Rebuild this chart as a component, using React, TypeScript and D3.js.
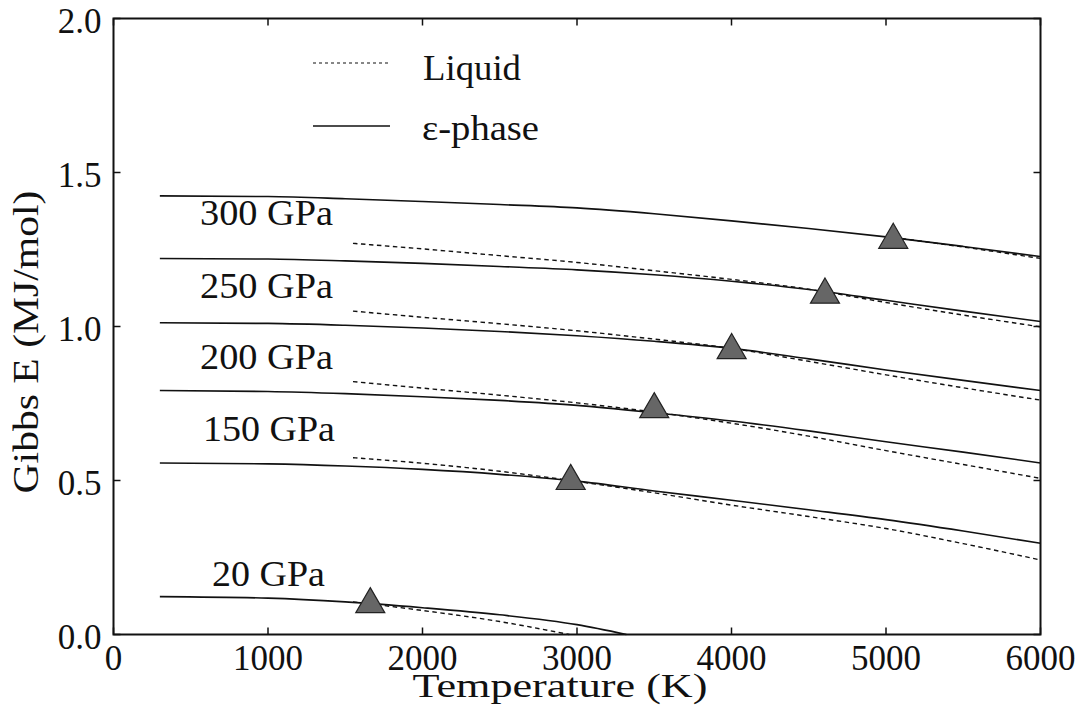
import React from "react";
import * as d3 from "d3";

// Temperature grids (K)
const SOLID_T = [300, 1000, 1500, 2000, 2500, 3000, 3500, 4000, 4500, 5000, 5500, 6000];
const LIQUID_T = [1550, 2000, 2500, 3000, 3500, 4000, 4500, 5000, 5500, 6000];

// ε-phase Gibbs energy (MJ/mol), top curve to bottom
const solidTop = [1.424, 1.422, 1.415, 1.406, 1.396, 1.385, 1.366, 1.343, 1.318, 1.291, 1.26, 1.227];
const solid250 = [1.221, 1.219, 1.213, 1.205, 1.195, 1.184, 1.168, 1.147, 1.12, 1.085, 1.05, 1.016];
const solid200 = [1.012, 1.01, 1.004, 0.995, 0.984, 0.97, 0.952, 0.929, 0.895, 0.859, 0.825, 0.792];
const solid150 = [0.792, 0.789, 0.782, 0.772, 0.76, 0.744, 0.72, 0.693, 0.661, 0.626, 0.592, 0.557];
const solidLow = [0.557, 0.554, 0.547, 0.536, 0.52, 0.498, 0.466, 0.436, 0.405, 0.373, 0.336, 0.296];
const SOLID20_T = [300, 1000, 1500, 2000, 2500, 3000, 3320];
const solid20 = [0.123, 0.118, 0.106, 0.087, 0.064, 0.032, 0.0];

// Liquid Gibbs energy (MJ/mol)
const LIQUID_TOP_T = [5050, 5500, 6000];
const liquidTop = [1.289, 1.258, 1.221];
const liquid250 = [1.27, 1.252, 1.23, 1.208, 1.181, 1.153, 1.121, 1.078, 1.037, 0.999];
const liquid200 = [1.05, 1.03, 1.009, 0.986, 0.959, 0.929, 0.887, 0.843, 0.801, 0.761];
const liquid150 = [0.821, 0.8, 0.777, 0.752, 0.722, 0.686, 0.644, 0.597, 0.552, 0.507];
const liquidLow = [0.574, 0.556, 0.53, 0.497, 0.46, 0.42, 0.383, 0.344, 0.295, 0.242];
const LIQUID20_T = [1550, 2000, 2500, 2950];
const liquid20 = [0.106, 0.078, 0.042, 0.0];

// Melting points (triangles)
const MELT_T = [1662, 2959, 3500, 4001, 4605, 5047];
const MELT_E = [0.098, 0.498, 0.731, 0.923, 1.103, 1.281];

// Pressure labels and their anchors (T, E)
const PRESSURE_LABELS = ["300 GPa", "250 GPa", "200 GPa", "150 GPa", "20 GPa"];
const LABEL_T = [560, 560, 560, 579, 637];
const LABEL_E = [1.33, 1.093, 0.862, 0.628, 0.158];
const LABEL_W = [133, 133, 133, 132, 113];

const X_TICKS = [0, 1000, 2000, 3000, 4000, 5000, 6000];
const Y_TICKS = [0, 0.5, 1.0, 1.5, 2.0];

const W = 1085;
const H = 719;
const FONT = '"Liberation Serif", "DejaVu Serif", Times, serif';

export default function App() {
  const x = d3.scaleLinear().domain([0, 6000]).range([113.5, 1040.5]);
  const y = d3.scaleLinear().domain([0, 2]).range([634.5, 18.5]);
  const line = d3
    .line<[number, number]>()
    .x((d) => x(d[0]))
    .y((d) => y(d[1]))
    .curve(d3.curveMonotoneX);
  const zip = (ts: number[], vs: number[]) => ts.map((t, i) => [t, vs[i]] as [number, number]);

  const solids = [
    zip(SOLID_T, solidTop),
    zip(SOLID_T, solid250),
    zip(SOLID_T, solid200),
    zip(SOLID_T, solid150),
    zip(SOLID_T, solidLow),
    zip(SOLID20_T, solid20),
  ];
  const liquids = [
    zip(LIQUID_TOP_T, liquidTop),
    zip(LIQUID_T, liquid250),
    zip(LIQUID_T, liquid200),
    zip(LIQUID_T, liquid150),
    zip(LIQUID_T, liquidLow),
    zip(LIQUID20_T, liquid20),
  ];
  const tri = d3.symbol().type(d3.symbolTriangle).size(364)();

  const [x0, x1] = x.range();
  const [y0, y1] = y.range();
  const tick = 7;
  const txt = { fontFamily: FONT, fill: "#111" } as React.CSSProperties;

  return (
    <svg
      width={W}
      height={H}
      style={{ position: "absolute", left: 0, top: 0, background: "#fff", fontFamily: FONT }}
    >
      <rect x={0} y={0} width={W} height={H} fill="#fff" />

      {/* liquid curves */}
      {liquids.map((d, i) => (
        <path key={"l" + i} d={line(d) || ""} fill="none" stroke="#111" strokeWidth={1.4} strokeDasharray="4.5,3.5" />
      ))}
      {/* ε-phase curves */}
      {solids.map((d, i) => (
        <path key={"s" + i} d={line(d) || ""} fill="none" stroke="#111" strokeWidth={1.6} />
      ))}

      {/* melting points */}
      {MELT_T.map((t, i) => (
        <path
          key={"m" + i}
          d={tri || ""}
          transform={`translate(${x(t)},${y(MELT_E[i])})`}
          fill="#666"
          stroke="#222"
          strokeWidth={1.2}
        />
      ))}

      {/* pressure labels */}
      {PRESSURE_LABELS.map((s, i) => (
        <text
          key={"p" + i}
          x={x(LABEL_T[i])}
          y={y(LABEL_E[i])}
          fontSize={35}
          style={txt}
          textLength={LABEL_W[i]}
          lengthAdjust="spacingAndGlyphs"
        >
          {s}
        </text>
      ))}

      {/* frame */}
      <rect x={x0} y={y1} width={x1 - x0} height={y0 - y1} fill="none" stroke="#111" strokeWidth={2} />

      {/* ticks, inward on all four sides */}
      {X_TICKS.map((t) => (
        <g key={"xt" + t}>
          <line x1={x(t)} x2={x(t)} y1={y0} y2={y0 - tick} stroke="#111" strokeWidth={1.5} />
          <line x1={x(t)} x2={x(t)} y1={y1} y2={y1 + tick} stroke="#111" strokeWidth={1.5} />
          <text x={x(t)} y={y0 + 35} fontSize={35} textAnchor="middle" style={txt}>
            {t}
          </text>
        </g>
      ))}
      {Y_TICKS.map((v) => (
        <g key={"yt" + v}>
          <line x1={x0} x2={x0 + tick} y1={y(v)} y2={y(v)} stroke="#111" strokeWidth={1.5} />
          <line x1={x1} x2={x1 - tick} y1={y(v)} y2={y(v)} stroke="#111" strokeWidth={1.5} />
          <text x={x0 - 12} y={y(v) + 14.5} fontSize={35} textAnchor="end" style={txt}>
            {d3.format(".1f")(v)}
          </text>
        </g>
      ))}

      {/* axis titles */}
      <text
        x={560}
        y={697}
        fontSize={33}
        textAnchor="middle"
        style={txt}
        textLength={295}
        lengthAdjust="spacingAndGlyphs"
      >
        Temperature (K)
      </text>
      <text
        transform="translate(38,342) rotate(-90)"
        fontSize={35}
        textAnchor="middle"
        style={txt}
        textLength={303}
        lengthAdjust="spacingAndGlyphs"
      >
        Gibbs E (MJ/mol)
      </text>

      {/* legend */}
      <line x1={313} x2={390} y1={63} y2={63} stroke="#111" strokeWidth={1.2} strokeDasharray="3,3" />
      <text x={423} y={80} fontSize={35} style={txt} textLength={98} lengthAdjust="spacingAndGlyphs">
        Liquid
      </text>
      <line x1={313} x2={390} y1={126} y2={126} stroke="#111" strokeWidth={1.6} />
      <text x={422} y={140} fontSize={35} style={txt} textLength={117} lengthAdjust="spacingAndGlyphs">
        ε-phase
      </text>
    </svg>
  );
}
